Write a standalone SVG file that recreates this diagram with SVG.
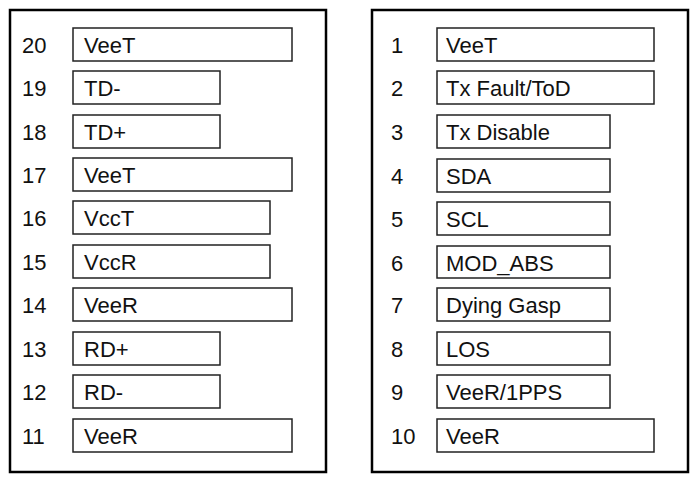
<svg xmlns="http://www.w3.org/2000/svg" width="699" height="483" viewBox="0 0 699 483">
<style>
.o{fill:#fff;stroke:#000;stroke-width:2.5}
.b{fill:#fff;stroke:#222;stroke-width:1.5}
text{font-family:"Liberation Sans",Arial,sans-serif;font-size:22px;fill:#111}
</style>
<rect width="699" height="483" fill="#fff"/>
<g id="left"><rect class="o" x="10" y="10" width="316" height="462"/></g>
<g id="right"><rect class="o" x="372" y="10" width="316" height="462"/></g>
<g id="pins-left">
<g id="p20"><rect class="b" x="73" y="28" width="219" height="33"/><text x="22" y="53">20</text><text x="84" y="53">VeeT</text></g>
<g id="p19"><rect class="b" x="73" y="71" width="147" height="33"/><text x="22" y="96">19</text><text x="84" y="96">TD-</text></g>
<g id="p18"><rect class="b" x="73" y="115" width="147" height="33"/><text x="22" y="140">18</text><text x="84" y="140">TD+</text></g>
<g id="p17"><rect class="b" x="73" y="158" width="219" height="33"/><text x="22" y="183">17</text><text x="84" y="183">VeeT</text></g>
<g id="p16"><rect class="b" x="73" y="201" width="197" height="33"/><text x="22" y="226">16</text><text x="84" y="226">VccT</text></g>
<g id="p15"><rect class="b" x="73" y="245" width="197" height="33"/><text x="22" y="270">15</text><text x="84" y="270">VccR</text></g>
<g id="p14"><rect class="b" x="73" y="288" width="219" height="33"/><text x="22" y="313">14</text><text x="84" y="313">VeeR</text></g>
<g id="p13"><rect class="b" x="73" y="332" width="147" height="33"/><text x="22" y="357">13</text><text x="84" y="357">RD+</text></g>
<g id="p12"><rect class="b" x="73" y="375" width="147" height="33"/><text x="22" y="400">12</text><text x="84" y="400">RD-</text></g>
<g id="p11"><rect class="b" x="73" y="419" width="219" height="33"/><text x="22" y="444">11</text><text x="84" y="444">VeeR</text></g>
</g>
<g id="pins-right">
<g id="p1"><rect class="b" x="437" y="28" width="217" height="33"/><text x="391" y="53">1</text><text x="446" y="53">VeeT</text></g>
<g id="p2"><rect class="b" x="437" y="71" width="217" height="33"/><text x="391" y="96">2</text><text x="446" y="96">Tx Fault/ToD</text></g>
<g id="p3"><rect class="b" x="437" y="115" width="173" height="33"/><text x="391" y="140">3</text><text x="446" y="140">Tx Disable</text></g>
<g id="p4"><rect class="b" x="437" y="159" width="173" height="33"/><text x="391" y="184">4</text><text x="446" y="184">SDA</text></g>
<g id="p5"><rect class="b" x="437" y="202" width="173" height="33"/><text x="391" y="227">5</text><text x="446" y="227">SCL</text></g>
<g id="p6"><rect class="b" x="437" y="246" width="173" height="32"/><text x="391" y="271">6</text><text x="446" y="271">MOD_ABS</text></g>
<g id="p7"><rect class="b" x="437" y="288" width="173" height="33"/><text x="391" y="313">7</text><text x="446" y="313">Dying Gasp</text></g>
<g id="p8"><rect class="b" x="437" y="332" width="173" height="33"/><text x="391" y="357">8</text><text x="446" y="357">LOS</text></g>
<g id="p9"><rect class="b" x="437" y="375" width="173" height="33"/><text x="391" y="400">9</text><text x="446" y="400">VeeR/1PPS</text></g>
<g id="p10"><rect class="b" x="437" y="419" width="217" height="33"/><text x="391" y="444">10</text><text x="446" y="444">VeeR</text></g>
</g>
<g id="connectors"/>
</svg>
